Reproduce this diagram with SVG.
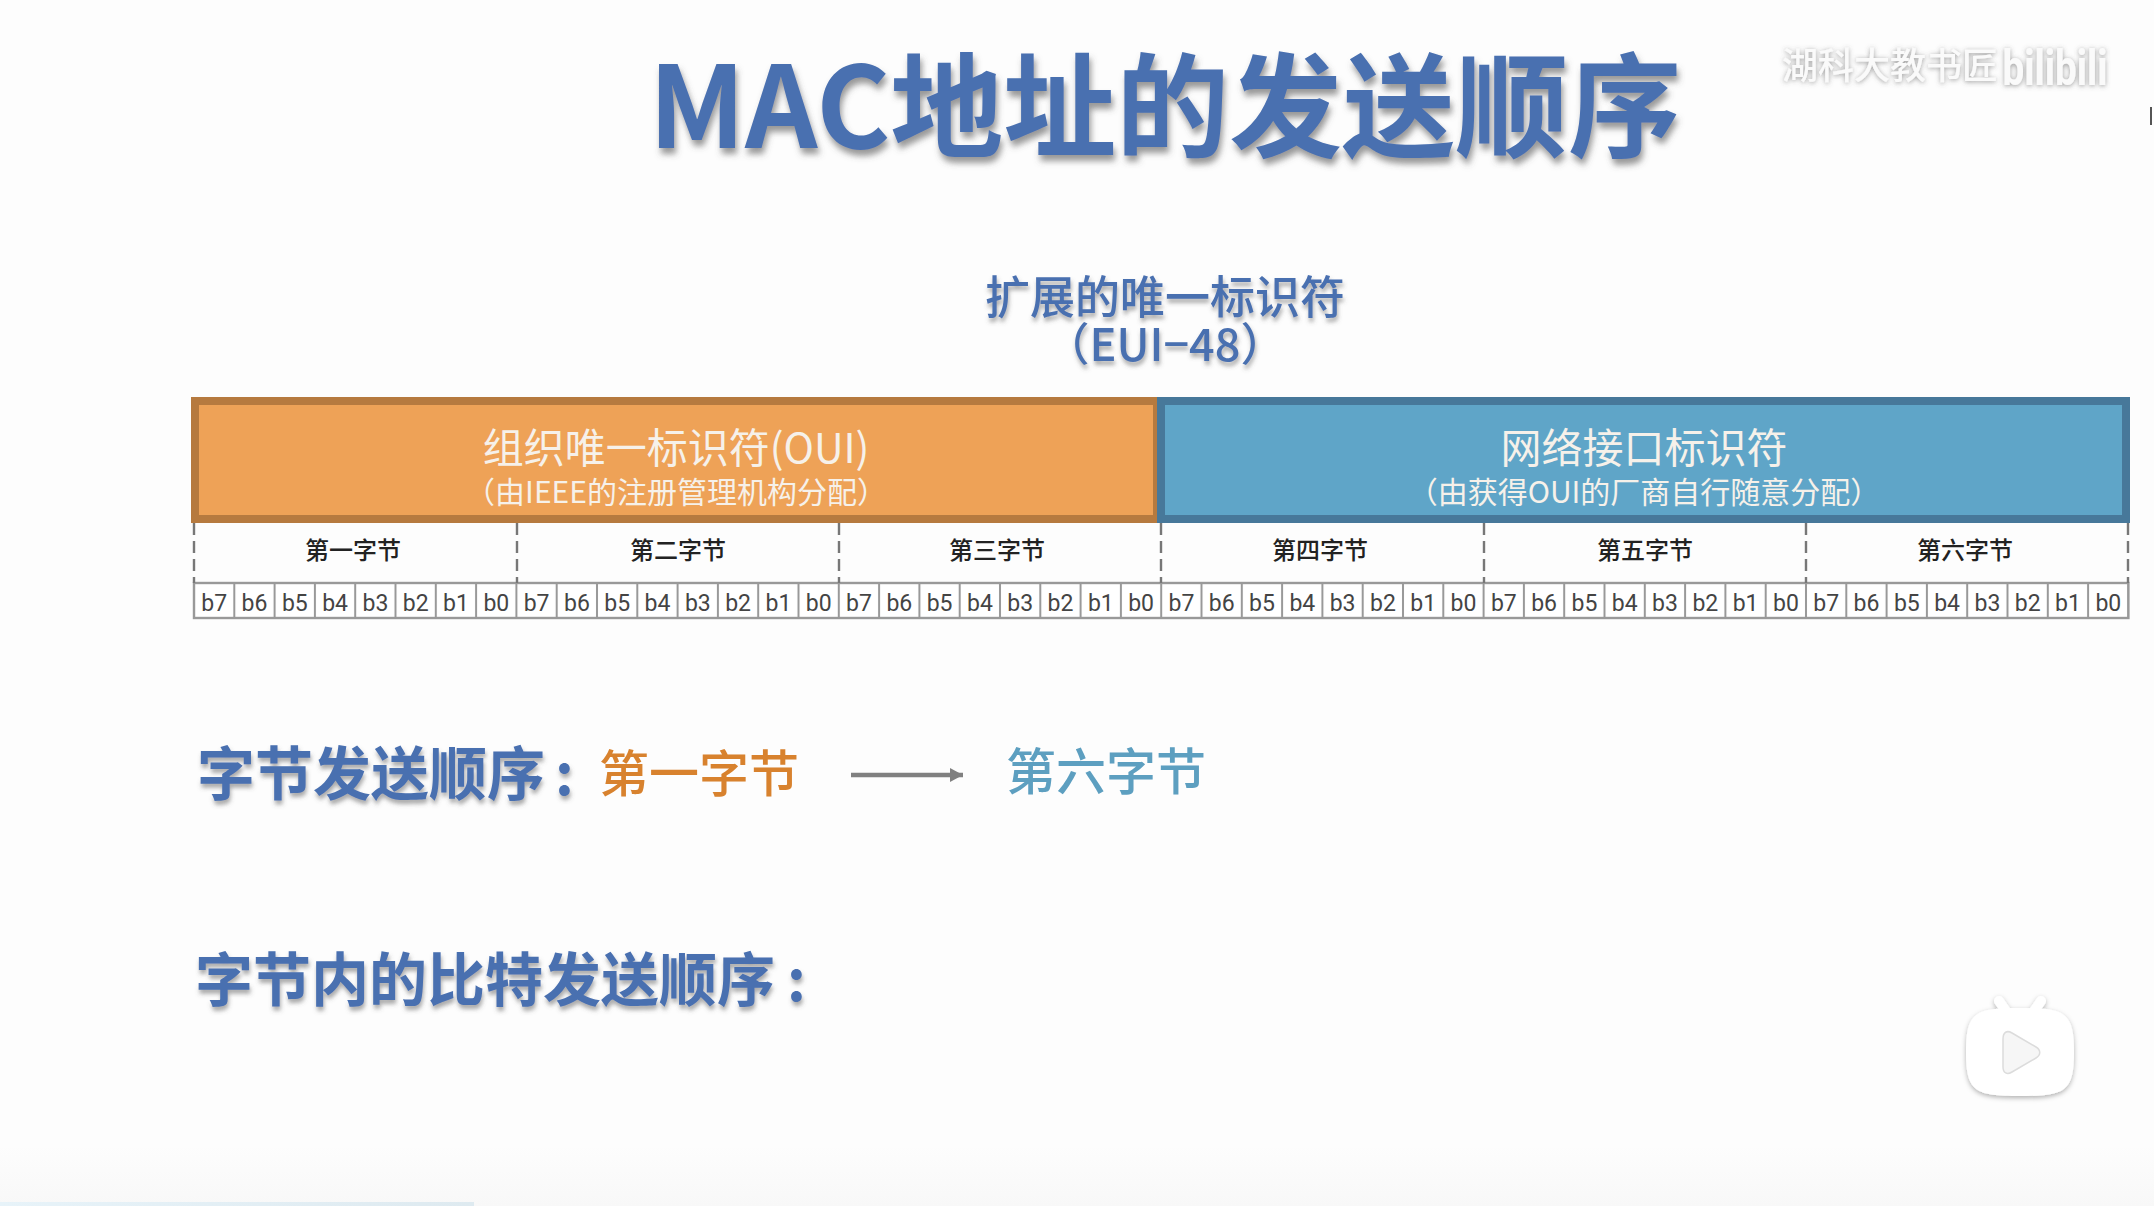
<svg xmlns="http://www.w3.org/2000/svg" width="2154" height="1206" viewBox="0 0 2154 1206">
<style>
text{font-family:"Noto Sans CJK SC","Noto Sans",sans-serif;text-anchor:middle}
.title{font-size:113px;font-weight:700;fill:#4a70b0;filter:url(#ts)}
.sub{font-size:45px;font-weight:500;fill:#4a70b0;filter:url(#ts2)}
.head{font-size:58px;font-weight:700;fill:#4a70b0;filter:url(#ts2);text-anchor:start}
.big{font-size:41px;fill:#f6f1ea}
.small{font-size:30px;fill:#f6f1ea}
.byte{font-size:24px;font-weight:500;fill:#222}
.bit{font-family:Roboto,"Liberation Sans",sans-serif;font-size:23px;fill:#444}
.dash{stroke:#777;stroke-width:2.4;stroke-dasharray:12 6;fill:none}
.wm{font-size:36px;font-weight:500;fill:#fafafa;filter:url(#wm)}
</style>
<defs>
<linearGradient id="bg" x1="0" y1="0" x2="0" y2="1"><stop offset="0.95" stop-color="#fdfdfd"/><stop offset="1" stop-color="#f8f8f8"/></linearGradient>
<linearGradient id="prog" x1="0" y1="0" x2="1" y2="0"><stop offset="0" stop-color="#e7f3f9"/><stop offset="1" stop-color="#deeaf0"/></linearGradient>
<pattern id="cells" x="194" y="583" width="40.3" height="35" patternUnits="userSpaceOnUse"><rect width="40.3" height="35" fill="#fff"/><rect x="-1" width="2" height="35" fill="#999"/><rect x="39.3" width="2" height="35" fill="#999"/></pattern>
<filter id="ts" x="-5%" y="-20%" width="110%" height="150%"><feDropShadow dx="2" dy="6" stdDeviation="3" flood-color="#555" flood-opacity="0.6"/></filter>
<filter id="ts2" x="-5%" y="-20%" width="110%" height="150%"><feDropShadow dx="1" dy="4" stdDeviation="2" flood-color="#555" flood-opacity="0.5"/></filter>
<filter id="wm" x="-5%" y="-20%" width="110%" height="150%"><feDropShadow dx="0" dy="1" stdDeviation="2.5" flood-color="#555" flood-opacity="0.6"/></filter>
<filter id="ic" x="-20%" y="-20%" width="140%" height="140%"><feDropShadow dx="0" dy="2" stdDeviation="2.5" flood-color="#000" flood-opacity="0.3"/></filter>
<marker id="ah" markerUnits="userSpaceOnUse" markerWidth="14" markerHeight="16" refX="13" refY="8" orient="auto"><path d="M0 1L13 8L0 15Z" fill="#808080"/></marker>
</defs>
<rect id="background" width="2154" height="1206" fill="url(#bg)"/>
<rect id="progress" x="0" y="1202" width="474" height="4" fill="url(#prog)"/>
<rect id="edge-tick" x="2150" y="107" width="2" height="18" fill="#555"/>

<g id="title"><text class="title" x="1165" y="148">MAC地址的发送顺序</text></g>
<g id="watermark">
<text class="wm" x="1890" y="79">湖科大教书匠</text>
<text class="wm" x="2055" y="85" style="font-family:Roboto,sans-serif;font-size:50px;font-weight:700" textLength="105" lengthAdjust="spacingAndGlyphs">bilibili</text>
</g>
<g id="eui48">
<text class="sub" x="1165" y="314">扩展的唯一标识符</text>
<text class="sub" x="1165" y="361">（EUI−48）</text>
</g>
<g id="oui">
<rect x="195" y="401" width="962" height="118" fill="#eea257" stroke="#b67a3f" stroke-width="8"/>
<text class="big" x="676" y="463">组织唯一标识符(OUI)</text>
<text class="small" x="676" y="503">（由IEEE的注册管理机构分配）</text>
</g>
<g id="nic">
<rect x="1161" y="401" width="965" height="118" fill="#5fa5c8" stroke="#47789a" stroke-width="8"/>
<text class="big" x="1644" y="463">网络接口标识符</text>
<text class="small" x="1644" y="503">（由获得OUI的厂商自行随意分配）</text>
</g>
<g id="byte-labels">
<text id="byte1" class="byte" x="353" y="559">第一字节</text>
<text id="byte2" class="byte" x="678" y="559">第二字节</text>
<text id="byte3" class="byte" x="997" y="559">第三字节</text>
<text id="byte4" class="byte" x="1320" y="559">第四字节</text>
<text id="byte5" class="byte" x="1645" y="559">第五字节</text>
<text id="byte6" class="byte" x="1965" y="559">第六字节</text>
</g>
<g id="bits">
<rect x="194" y="583" width="1934.4" height="35" fill="url(#cells)" stroke="#999" stroke-width="2.4"/>
<text class="bit" x="214.2" y="611">b7</text><text class="bit" x="254.5" y="611">b6</text><text class="bit" x="294.8" y="611">b5</text><text class="bit" x="335.1" y="611">b4</text><text class="bit" x="375.4" y="611">b3</text><text class="bit" x="415.7" y="611">b2</text><text class="bit" x="456" y="611">b1</text><text class="bit" x="496.3" y="611">b0</text>
<text class="bit" x="536.6" y="611">b7</text><text class="bit" x="576.9" y="611">b6</text><text class="bit" x="617.2" y="611">b5</text><text class="bit" x="657.5" y="611">b4</text><text class="bit" x="697.8" y="611">b3</text><text class="bit" x="738.1" y="611">b2</text><text class="bit" x="778.4" y="611">b1</text><text class="bit" x="818.7" y="611">b0</text>
<text class="bit" x="859" y="611">b7</text><text class="bit" x="899.3" y="611">b6</text><text class="bit" x="939.6" y="611">b5</text><text class="bit" x="979.9" y="611">b4</text><text class="bit" x="1020.2" y="611">b3</text><text class="bit" x="1060.5" y="611">b2</text><text class="bit" x="1100.8" y="611">b1</text><text class="bit" x="1141.1" y="611">b0</text>
<text class="bit" x="1181.4" y="611">b7</text><text class="bit" x="1221.7" y="611">b6</text><text class="bit" x="1262" y="611">b5</text><text class="bit" x="1302.3" y="611">b4</text><text class="bit" x="1342.6" y="611">b3</text><text class="bit" x="1382.9" y="611">b2</text><text class="bit" x="1423.2" y="611">b1</text><text class="bit" x="1463.5" y="611">b0</text>
<text class="bit" x="1503.8" y="611">b7</text><text class="bit" x="1544.1" y="611">b6</text><text class="bit" x="1584.4" y="611">b5</text><text class="bit" x="1624.7" y="611">b4</text><text class="bit" x="1665" y="611">b3</text><text class="bit" x="1705.3" y="611">b2</text><text class="bit" x="1745.6" y="611">b1</text><text class="bit" x="1785.9" y="611">b0</text>
<text class="bit" x="1826.2" y="611">b7</text><text class="bit" x="1866.5" y="611">b6</text><text class="bit" x="1906.8" y="611">b5</text><text class="bit" x="1947.1" y="611">b4</text><text class="bit" x="1987.4" y="611">b3</text><text class="bit" x="2027.7" y="611">b2</text><text class="bit" x="2068" y="611">b1</text><text class="bit" x="2108.3" y="611">b0</text>
</g>
<g id="byte-order">
<text class="head" x="197" y="795">字节发送顺序<tspan dx="10">:</tspan></text>
<text x="699" y="792" style="font-size:50px;font-weight:500;fill:#d8822e">第一字节</text>
<text x="1106" y="790" style="font-size:50px;font-weight:500;fill:#5d9fc0">第六字节</text>
</g>
<g id="bit-order"><text class="head" x="195" y="1001">字节内的比特发送顺序<tspan dx="12">:</tspan></text></g>
<g id="connectors">
<path class="dash" d="M194 523V583M517 523V583M839 523V583M1161 523V583M1484 523V583M1806 523V583M2128 523V583"/>
<line x1="851" y1="775" x2="963" y2="775" stroke="#808080" stroke-width="4.5" marker-end="url(#ah)"/>
</g>
<g id="play-icon">
<g filter="url(#ic)" fill="#fff">
<path d="M1966 1052C1966 1012 1975 1008 2020 1008C2065 1008 2074 1012 2074 1052C2074 1092 2065 1096 2020 1096C1975 1096 1966 1092 1966 1052Z"/>
<path d="M1999 1001L2008 1014M2041 1001L2032 1014" stroke="#fff" stroke-width="10" stroke-linecap="round" fill="none"/>
</g>
<path d="M2003 1039C2003 1032 2007 1030 2012 1033L2036 1047C2041 1050 2041 1055 2036 1058L2012 1072C2007 1075 2003 1073 2003 1067Z" fill="#f6f6f6" stroke="#dcdcdc" stroke-width="1.5"/>
</g>
</svg>
